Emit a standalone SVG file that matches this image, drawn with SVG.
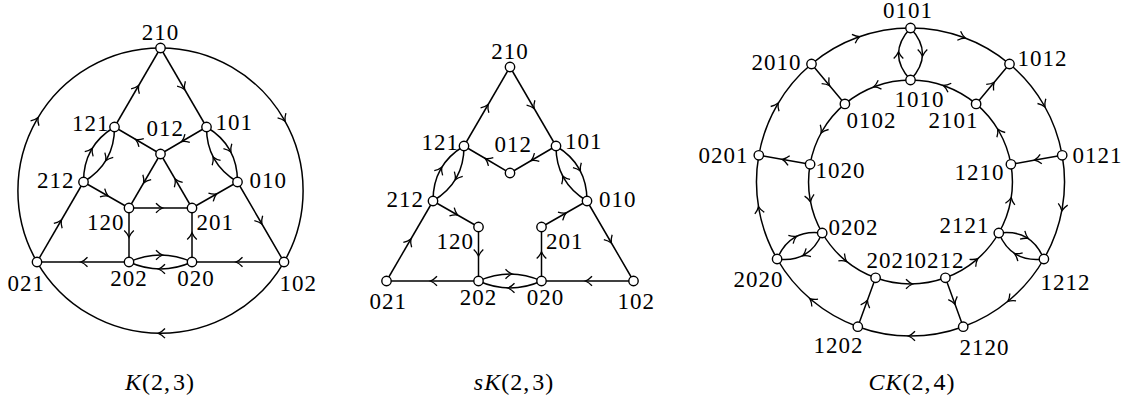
<svg xmlns="http://www.w3.org/2000/svg" width="1128" height="410" viewBox="0 0 1128 410">
<style>
.e{fill:none;stroke:#000;stroke-width:1.5;marker-mid:url(#ar)}
.n circle{fill:#fff;stroke:#000;stroke-width:1.4}
.n text,.cap{font-family:"Liberation Serif","Times New Roman",serif;font-size:23px;letter-spacing:1px;fill:#000}
.cap{font-size:24px;letter-spacing:1px}
.it{font-style:italic}
</style>
<defs>
<marker id="ar" viewBox="-7 -7 14 14" markerWidth="14" markerHeight="14" markerUnits="userSpaceOnUse" refX="0" refY="0" orient="auto">
<path d="M-4.5,-4.8 Q-1.4,-1.4 2.2,0 Q-1.4,1.4 -4.5,4.8" fill="none" stroke="#000" stroke-width="1.3"/>
</marker>
</defs>
<rect width="1128" height="410" fill="#fff"/>

<!-- K(2,3) -->
<g id="K23">
<g id="K23-connectors">
<path class="e" d="M37,262 A142.6,142.6 0 0 1 37,119.4 A142.6,142.6 0 0 1 160.5,48"/>
<path class="e" d="M160.5,48 A142.6,142.6 0 0 1 284,119.4 A142.6,142.6 0 0 1 284,262"/>
<path class="e" d="M284,262 A142.6,142.6 0 0 1 160.5,333.3 A142.6,142.6 0 0 1 37,262"/>
<path class="e" d="M114.5,127 L137.5,87.5 L160.5,48"/>
<path class="e" d="M160.5,48 L183.5,87.5 L206.5,127"/>
<path class="e" d="M237.5,182 L260.75,222 L284,262"/>
<path class="e" d="M37,262 L60.25,222 L83.5,182"/>
<path class="e" d="M206.5,127 L183.5,140.5 L160.5,154"/>
<path class="e" d="M160.5,154 L137.5,140.5 L114.5,127"/>
<path class="e" d="M160.5,154 L144.75,181 L129,208"/>
<path class="e" d="M192,208 L176.25,181 L160.5,154"/>
<path class="e" d="M83.5,182 L106.25,195 L129,208"/>
<path class="e" d="M192,208 L214.75,195 L237.5,182"/>
<path class="e" d="M129,208 L160.5,208 L192,208"/>
<path class="e" d="M129,208 L129,235 L129,262"/>
<path class="e" d="M192,262 L192,235 L192,208"/>
<path class="e" d="M129,262 L83,262 L37,262"/>
<path class="e" d="M284,262 L238,262 L192,262"/>
<path class="e" d="M206.5,127 Q222.09,136.33 229.84,150.08 Q237.59,163.83 237.5,182"/>
<path class="e" d="M237.5,182 Q221.91,172.67 214.16,158.92 Q206.41,145.17 206.5,127"/>
<path class="e" d="M83.5,182 Q83.41,163.83 91.16,150.08 Q98.91,136.33 114.5,127"/>
<path class="e" d="M114.5,127 Q114.59,145.17 106.84,158.92 Q99.09,172.67 83.5,182"/>
<path class="e" d="M129,262 Q144.75,255 160.5,255 Q176.25,255 192,262"/>
<path class="e" d="M192,262 Q176.25,269 160.5,269 Q144.75,269 129,262"/>
</g>
<g id="k-210" class="n"><circle cx="160.5" cy="48" r="4.7"/><text x="160.5" y="40" text-anchor="middle">210</text></g>
<g id="k-121" class="n"><circle cx="114.5" cy="127" r="4.7"/><text x="109.5" y="131" text-anchor="end">121</text></g>
<g id="k-101" class="n"><circle cx="206.5" cy="127" r="4.7"/><text x="215.6" y="130">101</text></g>
<g id="k-012" class="n"><circle cx="160.5" cy="154" r="4.7"/><text x="146.5" y="136">012</text></g>
<g id="k-212" class="n"><circle cx="83.5" cy="182" r="4.7"/><text x="74.5" y="188" text-anchor="end">212</text></g>
<g id="k-010" class="n"><circle cx="237.5" cy="182" r="4.7"/><text x="249.5" y="188">010</text></g>
<g id="k-120" class="n"><circle cx="129" cy="208" r="4.7"/><text x="124.5" y="230" text-anchor="end">120</text></g>
<g id="k-201" class="n"><circle cx="192" cy="208" r="4.7"/><text x="196.5" y="230">201</text></g>
<g id="k-021" class="n"><circle cx="37" cy="262" r="4.7"/><text x="7.5" y="291">021</text></g>
<g id="k-202" class="n"><circle cx="129" cy="262" r="4.7"/><text x="129" y="286" text-anchor="middle">202</text></g>
<g id="k-020" class="n"><circle cx="192" cy="262" r="4.7"/><text x="196" y="286" text-anchor="middle">020</text></g>
<g id="k-102" class="n"><circle cx="284" cy="262" r="4.7"/><text x="279.6" y="291">102</text></g>
<text class="cap" x="160" y="390" text-anchor="middle"><tspan class="it">K</tspan>(2,<tspan dx="2">3)</tspan></text>
</g>

<!-- sK(2,3) -->
<g id="sK23" transform="translate(349.5,19)">
<g id="sK23-connectors">
<path class="e" d="M114.5,127 L137.5,87.5 L160.5,48"/>
<path class="e" d="M160.5,48 L183.5,87.5 L206.5,127"/>
<path class="e" d="M237.5,182 L260.75,222 L284,262"/>
<path class="e" d="M37,262 L60.25,222 L83.5,182"/>
<path class="e" d="M206.5,127 L183.5,140.5 L160.5,154"/>
<path class="e" d="M160.5,154 L137.5,140.5 L114.5,127"/>
<path class="e" d="M83.5,182 L106.25,195 L129,208"/>
<path class="e" d="M192,208 L214.75,195 L237.5,182"/>
<path class="e" d="M129,208 L129,235 L129,262"/>
<path class="e" d="M192,262 L192,235 L192,208"/>
<path class="e" d="M129,262 L83,262 L37,262"/>
<path class="e" d="M284,262 L238,262 L192,262"/>
<path class="e" d="M206.5,127 Q222.09,136.33 229.84,150.08 Q237.59,163.83 237.5,182"/>
<path class="e" d="M237.5,182 Q221.91,172.67 214.16,158.92 Q206.41,145.17 206.5,127"/>
<path class="e" d="M83.5,182 Q83.41,163.83 91.16,150.08 Q98.91,136.33 114.5,127"/>
<path class="e" d="M114.5,127 Q114.59,145.17 106.84,158.92 Q99.09,172.67 83.5,182"/>
<path class="e" d="M129,262 Q144.75,255 160.5,255 Q176.25,255 192,262"/>
<path class="e" d="M192,262 Q176.25,269 160.5,269 Q144.75,269 129,262"/>
</g>
<g id="sk-210" class="n"><circle cx="160.5" cy="48" r="4.7"/><text x="160.5" y="40" text-anchor="middle">210</text></g>
<g id="sk-121" class="n"><circle cx="114.5" cy="127" r="4.7"/><text x="109.5" y="131" text-anchor="end">121</text></g>
<g id="sk-101" class="n"><circle cx="206.5" cy="127" r="4.7"/><text x="215.6" y="130">101</text></g>
<g id="sk-012" class="n"><circle cx="160.5" cy="154" r="4.7"/><text x="145" y="133">012</text></g>
<g id="sk-212" class="n"><circle cx="83.5" cy="182" r="4.7"/><text x="74.5" y="188" text-anchor="end">212</text></g>
<g id="sk-010" class="n"><circle cx="237.5" cy="182" r="4.7"/><text x="249.5" y="188">010</text></g>
<g id="sk-120" class="n"><circle cx="129" cy="208" r="4.7"/><text x="124.5" y="230" text-anchor="end">120</text></g>
<g id="sk-201" class="n"><circle cx="192" cy="208" r="4.7"/><text x="196.5" y="230">201</text></g>
<g id="sk-021" class="n"><circle cx="37" cy="262" r="4.7"/><text x="20" y="290">021</text></g>
<g id="sk-202" class="n"><circle cx="129" cy="262" r="4.7"/><text x="129" y="286" text-anchor="middle">202</text></g>
<g id="sk-020" class="n"><circle cx="192" cy="262" r="4.7"/><text x="196" y="286" text-anchor="middle">020</text></g>
<g id="sk-102" class="n"><circle cx="284" cy="262" r="4.7"/><text x="268.1" y="290">102</text></g>
</g>
<text class="cap" x="514" y="390" text-anchor="middle"><tspan class="it">sK</tspan>(2,<tspan dx="2">3)</tspan></text>

<!-- CK(2,4) -->
<g id="CK24">
<g id="CK24-connectors">
<path class="e" d="M910.5,28 A154,154 0 0 1 963.2,37.3 A154,154 0 0 1 1009.5,64"/>
<path class="e" d="M1009.5,64 A154,154 0 0 1 1043.9,105 A154,154 0 0 1 1062.2,155.3"/>
<path class="e" d="M1062.2,155.3 A154,154 0 0 1 1062.2,208.7 A154,154 0 0 1 1043.9,259"/>
<path class="e" d="M1043.9,259 A154,154 0 0 1 1009.5,300 A154,154 0 0 1 963.2,326.7"/>
<path class="e" d="M963.2,326.7 A154,154 0 0 1 910.5,336 A154,154 0 0 1 857.8,326.7"/>
<path class="e" d="M857.8,326.7 A154,154 0 0 1 811.5,300 A154,154 0 0 1 777.1,259"/>
<path class="e" d="M777.1,259 A154,154 0 0 1 758.8,208.7 A154,154 0 0 1 758.8,155.3"/>
<path class="e" d="M758.8,155.3 A154,154 0 0 1 777.1,105 A154,154 0 0 1 811.5,64"/>
<path class="e" d="M811.5,64 A154,154 0 0 1 857.8,37.3 A154,154 0 0 1 910.5,28"/>
<path class="e" d="M976.1,103.9 A102,102 0 0 0 945.4,86.2 A102,102 0 0 0 910.5,80"/>
<path class="e" d="M910.5,80 A102,102 0 0 0 875.6,86.2 A102,102 0 0 0 844.9,103.9"/>
<path class="e" d="M844.9,103.9 A102,102 0 0 0 822.2,131 A102,102 0 0 0 810.1,164.3"/>
<path class="e" d="M810.1,164.3 A102,102 0 0 0 810.1,199.7 A102,102 0 0 0 822.2,233"/>
<path class="e" d="M822.2,233 A102,102 0 0 0 844.9,260.1 A102,102 0 0 0 875.6,277.8"/>
<path class="e" d="M875.6,277.8 A102,102 0 0 0 910.5,284 A102,102 0 0 0 945.4,277.8"/>
<path class="e" d="M945.4,277.8 A102,102 0 0 0 976.1,260.1 A102,102 0 0 0 998.8,233"/>
<path class="e" d="M998.8,233 A102,102 0 0 0 1010.9,199.7 A102,102 0 0 0 1010.9,164.3"/>
<path class="e" d="M1010.9,164.3 A102,102 0 0 0 998.8,131 A102,102 0 0 0 976.1,103.9"/>
<path class="e" d="M910.5,80 Q898.5,67 898.5,54 Q898.5,41 910.5,28"/>
<path class="e" d="M910.5,28 Q922.5,41 922.5,54 Q922.5,67 910.5,80"/>
<path class="e" d="M976.1,103.9 L992.8,83.95 L1009.5,64"/>
<path class="e" d="M1062.2,155.3 L1036.55,159.8 L1010.9,164.3"/>
<path class="e" d="M998.8,233 Q1015.1,230.85 1026.35,237.3 Q1037.6,243.85 1043.9,259"/>
<path class="e" d="M1043.9,259 Q1027.6,261.15 1016.35,254.7 Q1005.1,248.15 998.8,233"/>
<path class="e" d="M945.4,277.8 L954.3,302.25 L963.2,326.7"/>
<path class="e" d="M857.8,326.7 L866.7,302.25 L875.6,277.8"/>
<path class="e" d="M777.1,259 Q783.4,243.85 794.65,237.3 Q805.9,230.85 822.2,233"/>
<path class="e" d="M822.2,233 Q815.9,248.15 804.65,254.7 Q793.4,261.15 777.1,259"/>
<path class="e" d="M810.1,164.3 L784.45,159.8 L758.8,155.3"/>
<path class="e" d="M811.5,64 L828.2,83.95 L844.9,103.9"/>
</g>
<g id="ck-0101" class="n"><circle cx="910.5" cy="28" r="4.7"/><text x="908" y="18" text-anchor="middle">0101</text></g>
<g id="ck-1012" class="n"><circle cx="1009.5" cy="64" r="4.7"/><text x="1017.6" y="65.5">1012</text></g>
<g id="ck-0121" class="n"><circle cx="1062.2" cy="155.3" r="4.7"/><text x="1072.5" y="163">0121</text></g>
<g id="ck-1212" class="n"><circle cx="1043.9" cy="259" r="4.7"/><text x="1040.6" y="290">1212</text></g>
<g id="ck-2120" class="n"><circle cx="963.2" cy="326.7" r="4.7"/><text x="959.5" y="355">2120</text></g>
<g id="ck-1202" class="n"><circle cx="857.8" cy="326.7" r="4.7"/><text x="813.6" y="353">1202</text></g>
<g id="ck-2020" class="n"><circle cx="777.1" cy="259" r="4.7"/><text x="783.5" y="287" text-anchor="end">2020</text></g>
<g id="ck-0201" class="n"><circle cx="758.8" cy="155.3" r="4.7"/><text x="748.5" y="163" text-anchor="end">0201</text></g>
<g id="ck-2010" class="n"><circle cx="811.5" cy="64" r="4.7"/><text x="801.5" y="70" text-anchor="end">2010</text></g>
<g id="ck-1010" class="n"><circle cx="910.5" cy="80" r="4.7"/><text x="894.6" y="107">1010</text></g>
<g id="ck-2101" class="n"><circle cx="976.1" cy="103.9" r="4.7"/><text x="978.5" y="128" text-anchor="end">2101</text></g>
<g id="ck-1210" class="n"><circle cx="1010.9" cy="164.3" r="4.7"/><text x="1004.5" y="180" text-anchor="end">1210</text></g>
<g id="ck-2121" class="n"><circle cx="998.8" cy="233" r="4.7"/><text x="989.5" y="233" text-anchor="end">2121</text></g>
<g id="ck-0212" class="n"><circle cx="945.4" cy="277.8" r="4.7"/><text x="964.5" y="268" text-anchor="end">0212</text></g>
<g id="ck-2021" class="n"><circle cx="875.6" cy="277.8" r="4.7"/><text x="866.5" y="268">2021</text></g>
<g id="ck-0202" class="n"><circle cx="822.2" cy="233" r="4.7"/><text x="828.5" y="235">0202</text></g>
<g id="ck-1020" class="n"><circle cx="810.1" cy="164.3" r="4.7"/><text x="815.6" y="178">1020</text></g>
<g id="ck-0102" class="n"><circle cx="844.9" cy="103.9" r="4.7"/><text x="846.5" y="128">0102</text></g>
<text class="cap" x="912" y="390" text-anchor="middle"><tspan class="it">CK</tspan>(2,<tspan dx="2">4)</tspan></text>
</g>
</svg>
